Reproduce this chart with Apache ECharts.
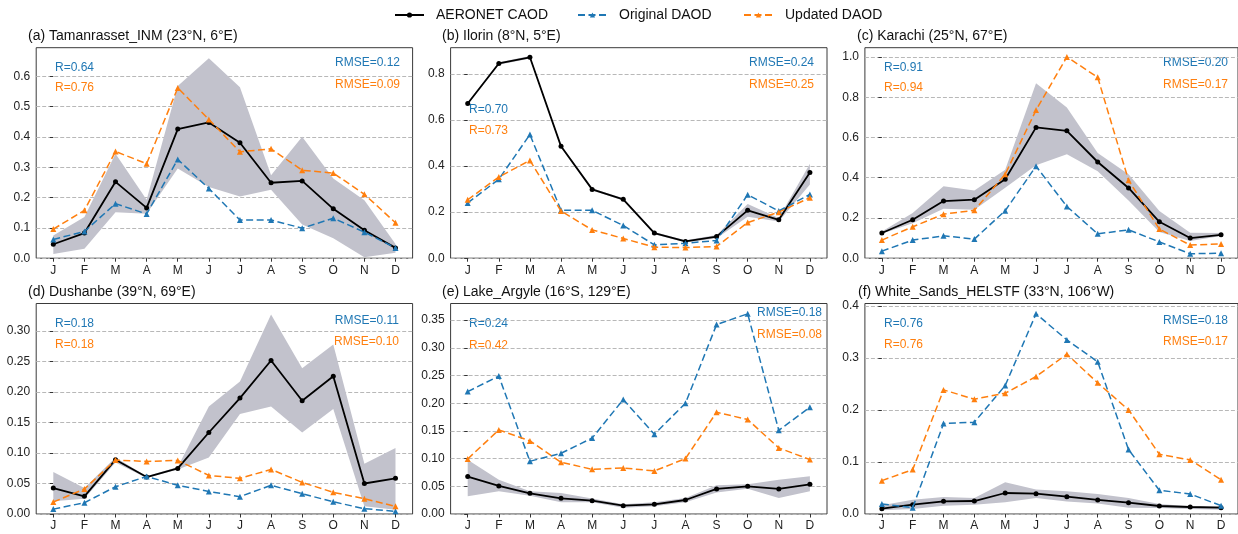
<!DOCTYPE html>
<html>
<head>
<meta charset="utf-8">
<script src="https://cdn.jsdelivr.net/npm/echarts@6/dist/echarts.min.js"></script>
<style>
html, body { margin: 0; padding: 0; background: #fff; }
#chart { width: 1238px; height: 534px; }
</style>
</head>
<body>
<div id="chart"></div>
<script>
// Month tick labels (x axis)
const months = ['J', 'F', 'M', 'A', 'M', 'J', 'J', 'A', 'S', 'O', 'N', 'D'];

// (a) Tamanrasset_INM
const caodA   = [0.046, 0.083, 0.252, 0.166, 0.426, 0.448, 0.381, 0.249, 0.255, 0.163, 0.092, 0.034];
const origA   = [0.062, 0.088, 0.180, 0.146, 0.326, 0.230, 0.126, 0.126, 0.099, 0.132, 0.086, 0.034];
const updA    = [0.096, 0.158, 0.352, 0.312, 0.562, 0.458, 0.351, 0.361, 0.290, 0.281, 0.211, 0.117];
const caodLoA = [0.014, 0.031, 0.152, 0.147, 0.296, 0.235, 0.204, 0.226, 0.111, 0.066, 0.003, 0.018];
const caodHiA = [0.075, 0.136, 0.345, 0.193, 0.568, 0.660, 0.564, 0.274, 0.401, 0.263, 0.191, 0.047];
const yTicksA = [0, 0.1, 0.2, 0.3, 0.4, 0.5, 0.6];

// (b) Ilorin
const caodB   = [0.672, 0.846, 0.873, 0.486, 0.299, 0.256, 0.109, 0.073, 0.094, 0.208, 0.167, 0.372];
const origB   = [0.240, 0.343, 0.537, 0.208, 0.208, 0.142, 0.058, 0.065, 0.077, 0.276, 0.205, 0.277];
const updB    = [0.254, 0.353, 0.425, 0.205, 0.123, 0.086, 0.048, 0.046, 0.051, 0.155, 0.200, 0.263];
const caodLoB = [0.667, 0.841, 0.868, 0.481, 0.294, 0.251, 0.104, 0.068, 0.087, 0.180, 0.160, 0.320];
const caodHiB = [0.677, 0.851, 0.878, 0.491, 0.304, 0.261, 0.114, 0.078, 0.101, 0.235, 0.175, 0.410];
const yTicksB = [0, 0.2, 0.4, 0.6, 0.8];

// (c) Karachi
const caodC   = [0.125, 0.191, 0.284, 0.291, 0.392, 0.650, 0.633, 0.478, 0.349, 0.181, 0.100, 0.116];
const origC   = [0.035, 0.090, 0.111, 0.095, 0.236, 0.457, 0.257, 0.121, 0.141, 0.081, 0.022, 0.025];
const updC    = [0.090, 0.156, 0.219, 0.238, 0.417, 0.736, 1.000, 0.899, 0.387, 0.145, 0.065, 0.071];
const caodLoC = [0.121, 0.174, 0.246, 0.241, 0.350, 0.462, 0.517, 0.432, 0.287, 0.130, 0.085, 0.110];
const caodHiC = [0.133, 0.224, 0.357, 0.337, 0.440, 0.869, 0.749, 0.523, 0.417, 0.234, 0.126, 0.125];
const yTicksC = [0, 0.2, 0.4, 0.6, 0.8, 1.0];

// (d) Dushanbe
const caodD   = [0.0425, 0.029, 0.089, 0.0605, 0.0747, 0.1336, 0.190, 0.2515, 0.1855, 0.2258, 0.050, 0.0584];
const origD   = [0.008, 0.0185, 0.0447, 0.0616, 0.047, 0.037, 0.0284, 0.047, 0.0333, 0.020, 0.0087, 0.0044];
const updD    = [0.0196, 0.041, 0.0884, 0.0862, 0.0878, 0.0633, 0.0584, 0.0731, 0.0518, 0.0355, 0.0251, 0.0125];
const caodLoD = [0.0207, 0.025, 0.0845, 0.059, 0.073, 0.0927, 0.164, 0.176, 0.1336, 0.172, 0.0125, 0.007];
const caodHiD = [0.0687, 0.0425, 0.0927, 0.062, 0.077, 0.176, 0.217, 0.327, 0.239, 0.278, 0.0824, 0.108];
const yTicksD = [0, 0.05, 0.10, 0.15, 0.20, 0.25, 0.30];

// (e) Lake_Argyle
const caodE   = [0.0675, 0.0506, 0.0373, 0.0283, 0.0241, 0.0151, 0.0175, 0.0253, 0.0452, 0.050, 0.0452, 0.0536];
const origE   = [0.221, 0.249, 0.0952, 0.1096, 0.137, 0.2066, 0.144, 0.200, 0.342, 0.3614, 0.151, 0.1928];
const updE    = [0.0994, 0.1518, 0.132, 0.0934, 0.0807, 0.0831, 0.0777, 0.100, 0.1837, 0.1705, 0.1193, 0.0982];
const caodLoE = [0.032, 0.041, 0.033, 0.021, 0.021, 0.0114, 0.0139, 0.021, 0.039, 0.0458, 0.029, 0.041];
const caodHiE = [0.098, 0.062, 0.041, 0.038, 0.028, 0.0175, 0.021, 0.029, 0.052, 0.0536, 0.062, 0.068];
const yTicksE = [0, 0.05, 0.10, 0.15, 0.20, 0.25, 0.30, 0.35];

// (f) White_Sands_HELSTF
const caodF   = [0.0103, 0.018, 0.0244, 0.025, 0.0404, 0.0392, 0.0334, 0.027, 0.0218, 0.0154, 0.0135, 0.0122];
const origF   = [0.0193, 0.0122, 0.174, 0.1766, 0.2472, 0.3852, 0.335, 0.2928, 0.1239, 0.0456, 0.0385, 0.016];
const updF    = [0.0642, 0.0854, 0.2388, 0.2209, 0.2324, 0.2645, 0.3075, 0.2523, 0.2003, 0.1149, 0.1040, 0.0661];
const caodLoF = [0.007, 0.0096, 0.016, 0.018, 0.0225, 0.031, 0.024, 0.020, 0.0122, 0.0116, 0.0096, 0.0083];
const caodHiF = [0.0167, 0.0276, 0.0327, 0.031, 0.061, 0.047, 0.044, 0.0385, 0.031, 0.019, 0.0148, 0.0148];
const yTicksF = [0, 0.1, 0.2, 0.3, 0.4];

// Skill scores printed in each panel
const stationNames = ['(a) Tamanrasset_INM (23°N, 6°E)', '(b) Ilorin (8°N, 5°E)', '(c) Karachi (25°N, 67°E)',
                      '(d) Dushanbe (39°N, 69°E)', '(e) Lake_Argyle (16°S, 129°E)', '(f) White_Sands_HELSTF (33°N, 106°W)'];
const rOrig    = ['0.64', '0.70', '0.91', '0.18', '0.24', '0.76'];
const rUpd     = ['0.76', '0.73', '0.94', '0.18', '0.42', '0.76'];
const rmseOrig = ['0.12', '0.24', '0.20', '0.11', '0.18', '0.18'];
const rmseUpd  = ['0.09', '0.25', '0.17', '0.10', '0.08', '0.17'];

// Axis upper limits
const yMaxes = [0.6946, 0.9146, 1.046, 0.345, 0.380, 0.405];

const panels = [
  { caod: caodA, orig: origA, upd: updA, lo: caodLoA, hi: caodHiA, ticks: yTicksA, dec: 1 },
  { caod: caodB, orig: origB, upd: updB, lo: caodLoB, hi: caodHiB, ticks: yTicksB, dec: 1 },
  { caod: caodC, orig: origC, upd: updC, lo: caodLoC, hi: caodHiC, ticks: yTicksC, dec: 1 },
  { caod: caodD, orig: origD, upd: updD, lo: caodLoD, hi: caodHiD, ticks: yTicksD, dec: 2 },
  { caod: caodE, orig: origE, upd: updE, lo: caodLoE, hi: caodHiE, ticks: yTicksE, dec: 2 },
  { caod: caodF, orig: origF, upd: updF, lo: caodLoF, hi: caodHiF, ticks: yTicksF, dec: 1 }
];

// Panel placement
const colLeft = [36.2, 450.6, 864.9];
const rowTop = [47.7, 303.5];
const plotW = 376.4;
const plotH = 210.5;
const titlePos = [[28, 36], [442, 36], [857, 36], [28, 292.5], [442, 292.5], [858, 292.5]];
const rPos = [[55, 68, 88], [469, 110, 131], [884, 68, 88], [55, 324, 345], [469, 324, 346], [884, 324, 345]];
const rmsePos = [[400, 63, 85], [814, 63, 85], [1228, 63, 85], [399, 321, 342], [822, 313, 335], [1228, 321, 342]];

const FONT = '"Liberation Sans", Arial, Helvetica, sans-serif';
const BLUE = '#1f77b4';
const ORANGE = '#ff7f0e';
const BAND = '#c2c2cc';
const monthIdx = months.map((m, i) => i);

const grids = [], xAxes = [], yAxes = [], series = [], graphics = [];

panels.forEach((p, k) => {
  const col = k % 3, row = Math.floor(k / 3);
  grids.push({
    left: colLeft[col], top: rowTop[row], width: plotW, height: plotH,
    show: true, borderColor: '#3a3a3a', borderWidth: 1, backgroundColor: 'transparent'
  });
  xAxes.push({
    type: 'value', gridIndex: k, min: -0.55, max: 11.55,
    axisLine: { show: false },
    axisTick: { show: true, customValues: monthIdx, length: 3.5, lineStyle: { color: '#333', width: 1 } },
    axisLabel: {
      customValues: monthIdx, formatter: v => months[Math.round(v)],
      margin: 6, fontSize: 12, color: '#222', fontFamily: FONT
    },
    splitLine: { show: false }
  });
  yAxes.push({
    type: 'value', gridIndex: k, min: 0, max: yMaxes[k],
    axisLine: { show: false },
    axisTick: { show: true, customValues: p.ticks, length: 3.5, lineStyle: { color: '#333', width: 1 } },
    axisLabel: {
      customValues: p.ticks, formatter: v => v.toFixed(p.dec),
      margin: 6, fontSize: 12, color: '#222', fontFamily: FONT
    },
    splitLine: { show: true, lineStyle: { color: '#b8b8b8', width: 1, type: [4, 2] } }
  });

  // Spread of the AERONET coarse-mode AOD
  const lo = p.lo, hi = p.hi;
  series.push({
    type: 'custom', xAxisIndex: k, yAxisIndex: k, silent: true, z: 1,
    data: lo.map((v, i) => [i, v, hi[i]]),
    encode: { x: 0, y: [1, 2] },
    renderItem: function (params, api) {
      if (params.dataIndex !== 0) return null;
      const pts = [];
      for (let i = 0; i < hi.length; i++) pts.push(api.coord([i, hi[i]]));
      for (let i = lo.length - 1; i >= 0; i--) pts.push(api.coord([i, lo[i]]));
      return { type: 'polygon', shape: { points: pts }, style: { fill: BAND } };
    }
  });

  series.push({
    name: 'AERONET CAOD', type: 'line', xAxisIndex: k, yAxisIndex: k, z: 3,
    data: p.caod.map((v, i) => [i, v]),
    symbol: 'circle', symbolSize: 5, showAllSymbol: true,
    lineStyle: { color: '#000', width: 1.8 }, itemStyle: { color: '#000' }
  });
  series.push({
    name: 'Original DAOD', type: 'line', xAxisIndex: k, yAxisIndex: k, z: 4,
    data: p.orig.map((v, i) => [i, v]),
    symbol: 'triangle', symbolSize: 6, showAllSymbol: true,
    lineStyle: { color: BLUE, width: 1.5, type: [7, 3.5] }, itemStyle: { color: BLUE }
  });
  series.push({
    name: 'Updated DAOD', type: 'line', xAxisIndex: k, yAxisIndex: k, z: 5,
    data: p.upd.map((v, i) => [i, v]),
    symbol: 'triangle', symbolSize: 6, showAllSymbol: true,
    lineStyle: { color: ORANGE, width: 1.5, type: [7, 3.5] }, itemStyle: { color: ORANGE }
  });

  // Panel title and scores
  graphics.push({
    type: 'text', x: titlePos[k][0], y: titlePos[k][1],
    style: { text: stationNames[k], fill: '#111', font: '14px ' + FONT, align: 'left', verticalAlign: 'middle',
             textAlign: 'left', textVerticalAlign: 'middle' }
  });
  const addText = (txt, x, y, color, align) => graphics.push({
    type: 'text', x: x, y: y,
    style: { text: txt, fill: color, font: '12px ' + FONT, align: align, verticalAlign: 'middle',
             textAlign: align, textVerticalAlign: 'middle' }
  });
  addText('R=' + rOrig[k], rPos[k][0], rPos[k][1], BLUE, 'left');
  addText('R=' + rUpd[k], rPos[k][0], rPos[k][2], ORANGE, 'left');
  addText('RMSE=' + rmseOrig[k], rmsePos[k][0], rmsePos[k][1], BLUE, 'right');
  addText('RMSE=' + rmseUpd[k], rmsePos[k][0], rmsePos[k][2], ORANGE, 'right');
});

const legendBase = {
  top: 8, padding: 0, itemWidth: 29, itemHeight: 6.5,
  textStyle: { fontSize: 14, color: '#111', fontFamily: FONT, padding: [0, 0, 0, 7] }
};

const chart = echarts.init(document.getElementById('chart'), null, { renderer: 'canvas' });
chart.setOption({
  animation: false,
  backgroundColor: '#fff',
  textStyle: { fontFamily: FONT },
  legend: [
    Object.assign({}, legendBase, { left: 394, data: ['AERONET CAOD'] }),
    Object.assign({}, legendBase, { left: 577, data: ['Original DAOD'] }),
    Object.assign({}, legendBase, { left: 743, data: ['Updated DAOD'] })
  ],
  grid: grids,
  xAxis: xAxes,
  yAxis: yAxes,
  series: series,
  graphic: graphics
});
</script>
</body>
</html>
